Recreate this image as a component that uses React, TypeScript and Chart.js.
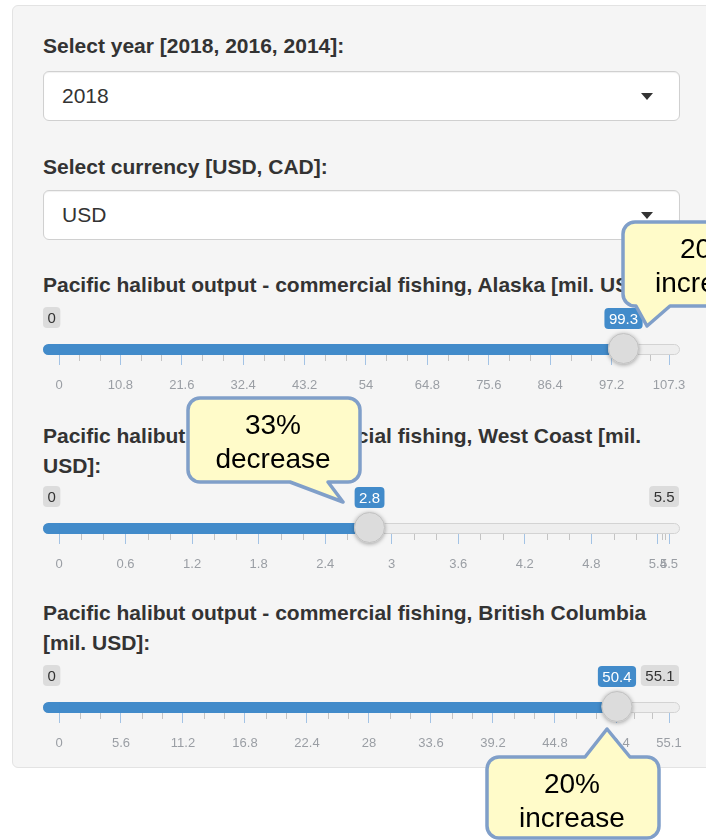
import React, { useEffect, useRef } from "react";
import { Chart, registerables } from "chart.js";

Chart.register(...registerables);

// ---------- data ----------
const YEAR_OPTIONS = ["2018", "2016", "2014"];
const CURRENCY_OPTIONS = ["USD", "CAD"];
const SELECTED_YEAR = "2018";
const SELECTED_CURRENCY = "USD";

const SLIDER_TITLES = [
  ["Pacific halibut output - commercial fishing, Alaska [mil. USD]:"],
  ["Pacific halibut output - commercial fishing, West Coast [mil.", "USD]:"],
  ["Pacific halibut output - commercial fishing, British Columbia", "[mil. USD]:"],
];
const SLIDER_MIN = [0, 0, 0];
const SLIDER_MAX = [107.3, 5.5, 55.1];
const SLIDER_VALUES = [99.3, 2.8, 50.4];
const ALASKA_TICKS = [0, 10.8, 21.6, 32.4, 43.2, 54, 64.8, 75.6, 86.4, 97.2, 107.3];
const WEST_COAST_TICKS = [0, 0.6, 1.2, 1.8, 2.4, 3, 3.6, 4.2, 4.8, 5.4, 5.5];
const BC_TICKS = [0, 5.6, 11.2, 16.8, 22.4, 28, 33.6, 39.2, 44.8, 50.4, 55.1];
const SLIDER_TICKS = [ALASKA_TICKS, WEST_COAST_TICKS, BC_TICKS];
const SHOW_MAX_BADGE = [false, true, true];
const CALLOUT_TEXT = [
  ["20%", "increase"],
  ["33%", "decrease"],
  ["20%", "increase"],
];

// ---------- layout / style ----------
const FONT = '"Liberation Sans", Arial, Helvetica, sans-serif';
const BLUE = "#428bca";
const TRACK_TOPS = [344, 523, 702];
const CANVAS_OFFSET = 42;
const CANVAS_H = 100;

const CALLOUT_LAYOUT = [
  { x: 623, y: 222, w: 172, h: 84, side: "bottom", b1: 636, b2: 670, tx: 647, ty: 326 },
  { x: 188, y: 398, w: 172, h: 84, side: "bottom", b1: 290, b2: 328, tx: 343, ty: 502 },
  { x: 487, y: 757, w: 172, h: 81, side: "top", b1: 585, b2: 630, tx: 607, ty: 729 },
];

function roundRect(ctx: CanvasRenderingContext2D, x: number, y: number, w: number, h: number, r: number) {
  ctx.beginPath();
  ctx.moveTo(x + r, y);
  ctx.lineTo(x + w - r, y);
  ctx.arcTo(x + w, y, x + w, y + r, r);
  ctx.lineTo(x + w, y + h - r);
  ctx.arcTo(x + w, y + h, x + w - r, y + h, r);
  ctx.lineTo(x + r, y + h);
  ctx.arcTo(x, y + h, x, y + h - r, r);
  ctx.lineTo(x, y + r);
  ctx.arcTo(x, y, x + r, y, r);
  ctx.closePath();
}

function drawBadge(
  ctx: CanvasRenderingContext2D,
  text: string,
  anchorX: number,
  align: "left" | "center" | "right",
  top: number,
  bg: string,
  fg: string
) {
  ctx.save();
  ctx.font = `15px ${FONT}`;
  const tw = ctx.measureText(text).width;
  const w = tw + 9;
  const h = 21;
  let x = anchorX;
  if (align === "center") x = anchorX - w / 2;
  if (align === "right") x = anchorX - w;
  roundRect(ctx, x, top, w, h, 4);
  ctx.fillStyle = bg;
  ctx.fill();
  ctx.fillStyle = fg;
  ctx.textAlign = "center";
  ctx.textBaseline = "middle";
  ctx.fillText(text, x + w / 2, top + h / 2 + 1);
  ctx.restore();
}

const sliderPlugin = {
  id: "sliderDecor",
  beforeDatasetsDraw(chart: any, _args: any, opts: any) {
    const { ctx, chartArea } = chart;
    const xs = chart.scales.x;
    const top = chartArea.top;
    const h = chartArea.bottom - chartArea.top;
    const left = chartArea.left - 16;
    const right = chartArea.right + 11;
    ctx.save();
    roundRect(ctx, left + 0.5, top + 0.5, right - left - 1, h - 1, (h - 1) / 2);
    ctx.fillStyle = "#eeeeee";
    ctx.fill();
    ctx.strokeStyle = "#d3d3d3";
    ctx.lineWidth = 1;
    ctx.stroke();
    const x0 = xs.getPixelForValue(opts.min);
    roundRect(ctx, left, top, x0 - left + 8, h, h / 2);
    ctx.fillStyle = BLUE;
    ctx.fill();
    ctx.restore();
  },
  afterDraw(chart: any, _args: any, opts: any) {
    const { ctx, chartArea } = chart;
    const xs = chart.scales.x;
    const top = chartArea.top;
    const bottom = chartArea.bottom;
    const h = bottom - top;
    const ticks: number[] = opts.ticks;
    ctx.save();
    // minor ticks
    ctx.strokeStyle = "#c4c4c4";
    ctx.lineWidth = 1;
    for (let i = 0; i < ticks.length - 1; i++) {
      const a = ticks[i];
      const b = ticks[i + 1];
      for (let k = 1; k <= 2; k++) {
        const px = Math.round(xs.getPixelForValue(a + ((b - a) * k) / 3)) + 0.5;
        ctx.beginPath();
        ctx.moveTo(px, bottom);
        ctx.lineTo(px, bottom + 6);
        ctx.stroke();
      }
    }
    // handle
    const cx = xs.getPixelForValue(opts.value);
    const cy = top + h / 2 - 1;
    ctx.save();
    ctx.shadowColor = "rgba(0,0,0,0.35)";
    ctx.shadowBlur = 4;
    ctx.shadowOffsetY = 1;
    ctx.beginPath();
    ctx.arc(cx, cy, 15.5, 0, Math.PI * 2);
    ctx.fillStyle = "#dcdcdc";
    ctx.fill();
    ctx.restore();
    ctx.beginPath();
    ctx.arc(cx, cy, 15, 0, Math.PI * 2);
    ctx.strokeStyle = "#c2c2c2";
    ctx.lineWidth = 1;
    ctx.stroke();
    // badges
    const badgeTop = top - 37;
    const left = chartArea.left - 16;
    const right = chartArea.right + 10;
    drawBadge(ctx, String(opts.min), left, "left", badgeTop, "#dcdcdc", "#333");
    if (opts.showMax) drawBadge(ctx, String(opts.max), right, "right", badgeTop, "#dcdcdc", "#333");
    drawBadge(ctx, String(opts.value), cx, "center", badgeTop + 1, BLUE, "#fff");
    ctx.restore();
  },
};

function Slider({ index }: { index: number }) {
  const ref = useRef<HTMLCanvasElement | null>(null);
  useEffect(() => {
    if (!ref.current) return;
    const ticks = SLIDER_TICKS[index];
    const chart = new Chart(ref.current, {
      type: "bar",
      data: {
        labels: [""],
        datasets: [
          {
            data: [[SLIDER_MIN[index], SLIDER_VALUES[index]]] as any,
            backgroundColor: BLUE,
            borderWidth: 0,
            barPercentage: 1,
            categoryPercentage: 1,
          },
        ],
      },
      options: {
        indexAxis: "y",
        animation: false,
        responsive: false,
        devicePixelRatio: 1,
        events: [],
        layout: { padding: { left: 59, right: 37, top: CANVAS_OFFSET, bottom: 0 } },
        plugins: {
          legend: { display: false },
          tooltip: { enabled: false },
          sliderDecor: {
            min: SLIDER_MIN[index],
            max: SLIDER_MAX[index],
            value: SLIDER_VALUES[index],
            ticks,
            showMax: SHOW_MAX_BADGE[index],
          },
        } as any,
        scales: {
          y: { display: false },
          x: {
            type: "linear",
            position: "bottom",
            min: SLIDER_MIN[index],
            max: SLIDER_MAX[index],
            afterBuildTicks: (scale: any) => {
              scale.ticks = ticks.map((v) => ({ value: v }));
            },
            afterFit: (scale: any) => {
              scale.height = CANVAS_H - CANVAS_OFFSET - 11;
            },
            border: { display: false },
            grid: {
              drawOnChartArea: false,
              drawTicks: true,
              tickLength: 10,
              tickColor: "#a3c3e5",
              lineWidth: 1,
            },
            ticks: {
              autoSkip: false,
              maxRotation: 0,
              padding: 13,
              color: "#9a9ea4",
              font: { family: FONT, size: 13 },
              callback: (v: any) => String(v),
            },
          },
        },
      },
      plugins: [sliderPlugin as any],
    });
    return () => chart.destroy();
  }, [index]);
  return (
    <canvas
      ref={ref}
      width={706}
      height={CANVAS_H}
      style={{ position: "absolute", left: 0, top: TRACK_TOPS[index] - CANVAS_OFFSET, width: 706, height: CANVAS_H }}
    />
  );
}

function calloutPath(c: any) {
  const { x, y, w, h } = c;
  const r = 12;
  let d = `M${x + r},${y}`;
  if (c.side === "top") d += ` L${c.b1},${y} L${c.tx},${c.ty} L${c.b2},${y}`;
  d += ` L${x + w - r},${y} A${r},${r} 0 0 1 ${x + w},${y + r}`;
  d += ` L${x + w},${y + h - r} A${r},${r} 0 0 1 ${x + w - r},${y + h}`;
  if (c.side === "bottom") d += ` L${c.b2},${y + h} L${c.tx},${c.ty} L${c.b1},${y + h}`;
  d += ` L${x + r},${y + h} A${r},${r} 0 0 1 ${x},${y + h - r}`;
  d += ` L${x},${y + r} A${r},${r} 0 0 1 ${x + r},${y} Z`;
  return d;
}

const labelStyle: React.CSSProperties = {
  position: "absolute",
  left: 43,
  fontFamily: FONT,
  fontWeight: "bold",
  fontSize: 21,
  lineHeight: "30px",
  color: "#333",
  whiteSpace: "nowrap",
};

function SelectBox({ top, value }: { top: number; value: string }) {
  return (
    <div
      style={{
        position: "absolute",
        left: 43,
        top,
        width: 637,
        height: 50,
        boxSizing: "border-box",
        border: "1px solid #d0d0d0",
        borderRadius: 6,
        background: "#fff",
        boxShadow: "inset 0 1px 1px rgba(0,0,0,0.06)",
        fontFamily: FONT,
        fontSize: 21,
        lineHeight: "48px",
        color: "#333",
        paddingLeft: 18,
      }}
    >
      {value}
      <div
        style={{
          position: "absolute",
          left: 597,
          top: 21,
          width: 0,
          height: 0,
          borderLeft: "6px solid transparent",
          borderRight: "6px solid transparent",
          borderTop: "7px solid #333",
        }}
      />
    </div>
  );
}

export default function App() {
  useEffect(() => {
    document.body.style.margin = "0";
    document.body.style.background = "#fff";
  }, []);
  return (
    <div style={{ position: "relative", width: 706, height: 840, overflow: "hidden", background: "#fff" }}>
      <div
        style={{
          position: "absolute",
          left: 12,
          top: 5,
          width: 720,
          height: 763,
          boxSizing: "border-box",
          background: "#f5f5f5",
          border: "1px solid #e3e3e3",
          borderRadius: 6,
        }}
      />
      <div style={{ ...labelStyle, top: 31 }}>Select year [{YEAR_OPTIONS.join(", ")}]:</div>
      <SelectBox top={71} value={SELECTED_YEAR} />
      <div style={{ ...labelStyle, top: 152 }}>Select currency [{CURRENCY_OPTIONS.join(", ")}]:</div>
      <SelectBox top={190} value={SELECTED_CURRENCY} />
      {[270, 421, 598].map((t, i) => (
        <div key={i} style={{ ...labelStyle, top: t }}>
          {SLIDER_TITLES[i].map((line, j) => (
            <div key={j}>{line}</div>
          ))}
        </div>
      ))}
      {[0, 1, 2].map((i) => (
        <Slider key={i} index={i} />
      ))}
      <svg
        width={706}
        height={840}
        style={{ position: "absolute", left: 0, top: 0, pointerEvents: "none" }}
      >
        {CALLOUT_LAYOUT.map((c, i) => (
          <g key={i}>
            <path d={calloutPath(c)} fill="#fffbc9" stroke="#809fc9" strokeWidth={3.5} strokeLinejoin="round" />
            <text
              x={c.x + c.w / 2 - 1}
              y={c.y + 26}
              textAnchor="middle"
              dominantBaseline="central"
              fontFamily={FONT}
              fontSize={28}
              fill="#000"
            >
              {CALLOUT_TEXT[i][0]}
            </text>
            <text
              x={c.x + c.w / 2 - 1}
              y={c.y + 60}
              textAnchor="middle"
              dominantBaseline="central"
              fontFamily={FONT}
              fontSize={28}
              fill="#000"
            >
              {CALLOUT_TEXT[i][1]}
            </text>
          </g>
        ))}
      </svg>
    </div>
  );
}
